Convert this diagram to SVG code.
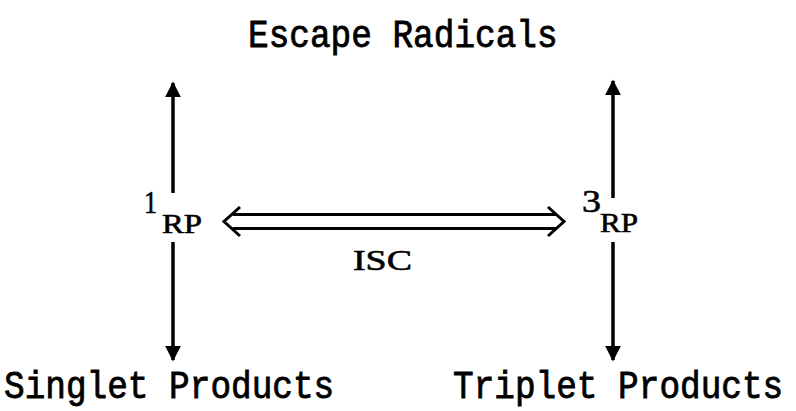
<svg xmlns="http://www.w3.org/2000/svg" width="796" height="411" viewBox="0 0 796 411">
<style>
.mono{font-family:"Liberation Mono","DejaVu Sans Mono",monospace;font-size:34.4px;fill:#000;stroke:#000;stroke-width:0.75}
.serif{font-family:"Liberation Serif","DejaVu Serif",serif;fill:#000;stroke:#000;stroke-width:0.6}
.ln{stroke:#000;stroke-width:3.5;fill:none}
.dbl{stroke:#000;stroke-width:3;fill:none;stroke-linejoin:miter}
</style>
<defs>
<marker id="ah" viewBox="0 0 10 10" refX="9" refY="5" markerWidth="4.6" markerHeight="4.6" orient="auto" markerUnits="strokeWidth">
<path d="M0,0 L10,5 L0,10 Z" fill="#000"/>
</marker>
</defs>
<rect width="796" height="411" fill="#fff"/>
<g id="escape" transform="translate(248,47) scale(1,1.12)"><text class="mono" x="0" y="0">Escape Radicals</text></g>
<g id="singlet-products" transform="translate(4,398) scale(1,1.12)"><text class="mono" x="0" y="0">Singlet Products</text></g>
<g id="triplet-products" transform="translate(453,398) scale(1,1.12)"><text class="mono" x="0" y="0">Triplet Products</text></g>
<g id="singlet-rp">
<text class="serif" x="144" y="213" font-size="31" textLength="13" lengthAdjust="spacingAndGlyphs">1</text>
<text class="serif" x="162" y="233" font-size="28" textLength="40" lengthAdjust="spacingAndGlyphs">RP</text>
</g>
<g id="triplet-rp">
<text class="serif" x="582" y="212" font-size="31" textLength="19" lengthAdjust="spacingAndGlyphs">3</text>
<text class="serif" x="600" y="232" font-size="28" textLength="38" lengthAdjust="spacingAndGlyphs">RP</text>
</g>
<g id="isc-label"><text class="serif" x="353" y="270" font-size="30" textLength="59" lengthAdjust="spacingAndGlyphs">ISC</text></g>
<g id="connectors">
<line class="ln" x1="173" y1="193" x2="173" y2="83" marker-end="url(#ah)"/>
<line class="ln" x1="173" y1="242" x2="173" y2="360" marker-end="url(#ah)"/>
<line class="ln" x1="613" y1="198" x2="613" y2="81" marker-end="url(#ah)"/>
<line class="ln" x1="613" y1="242" x2="613" y2="360" marker-end="url(#ah)"/>
<path class="dbl" d="M240,207 L224,221.5 L240,236 M233,214.5 L556,214.5 M233,228.5 L556,228.5 M548,207 L564,221.5 L548,236"/>
</g>
</svg>
